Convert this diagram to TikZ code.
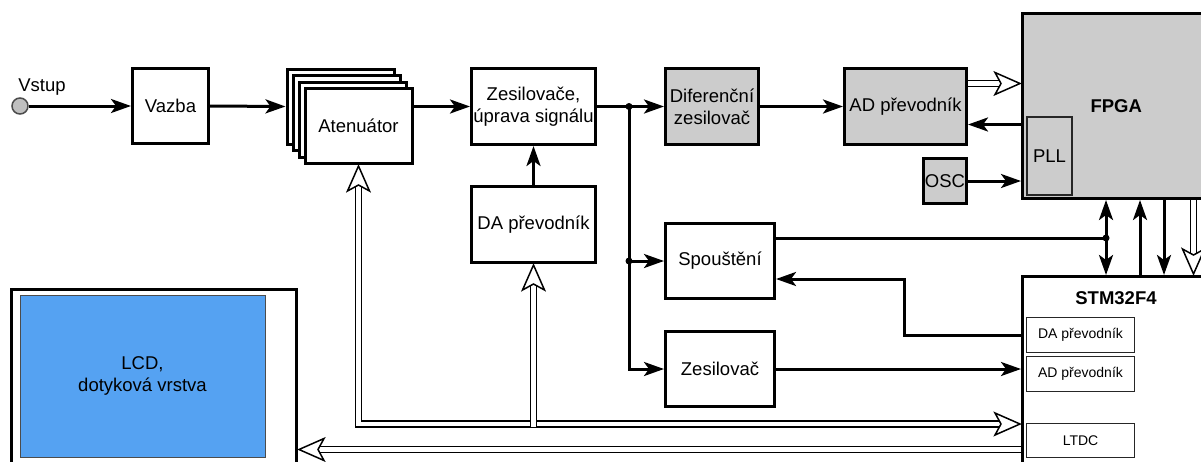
\documentclass[tikz,border=0pt]{standalone}
\usepackage{fontspec}
\setmainfont{Liberation Sans}
\usetikzlibrary{arrows.meta,calc}
\definecolor{boxgray}{RGB}{204,204,204}
\definecolor{lcdblue}{RGB}{85,162,242}
\tikzset{
  box/.style={draw, line width=3pt, inner sep=0pt, align=center},
  subbox/.style={draw=black!85, line width=1.5pt, inner sep=0pt, align=center},
  arr/.style={line width=3pt, line join=miter, -{Stealth[length=20pt, width=14pt, inset=5pt]}},
  arrtwo/.style={line width=3pt, {Stealth[length=20pt, width=14pt, inset=5pt]}-{Stealth[length=20pt, width=14pt, inset=5pt]}},
  dbl/.style={double=white, double distance=4.5pt, line width=1.5pt, line cap=butt, line join=miter},
  ohead/.pic={\draw[line width=1.5pt, fill=white, line join=miter] (-1,0) -- (-26,11) -- (-20,0) -- (-26,-11) -- cycle;}
}
\begin{document}
\begin{tikzpicture}[x=1pt,y=-1pt, font=\fontsize{18.5}{22}\selectfont]
\useasboundingbox[fill=white] (0,0) rectangle (1201,461);

% input
\node[circle, draw=black!70, fill=black!25, line width=1.5pt, minimum size=16pt, inner sep=0pt] (vin) at (20,106) {};
\node (vst) at (42,87) {Vstup};

\node[box, minimum width=76pt, minimum height=75pt] (vaz) at (170.5,106) {Vazba};
\node[box, fill=white, minimum width=107pt, minimum height=75pt] (atnc) at (340.5,106.5) {};
\node[box, fill=white, minimum width=107pt, minimum height=75pt] (atnb) at (346.5,113) {};
\node[box, fill=white, minimum width=107pt, minimum height=75pt] (atna) at (352.5,119.5) {};
\node[box, fill=white, minimum width=107pt, minimum height=75pt] (atn) at (358.5,126) {Atenuátor};
\node[box, minimum width=124pt, minimum height=76pt] (zes) at (533.5,106.5) {Zesilovače,\\úprava signálu};
\node[box, fill=boxgray, minimum width=93pt, minimum height=76pt] (dif) at (712,106.5) {Diferenční\\zesilovač};
\node[box, fill=boxgray, minimum width=122pt, minimum height=76pt] (ad) at (905.5,106.5) {AD převodník};
\node[box, fill=boxgray, minimum width=187.5pt, minimum height=185pt] (fpga) at (1116.25,106) {\bfseries FPGA};
\node[subbox, fill=boxgray, minimum width=45pt, minimum height=78pt] (pll) at (1049.5,156) {PLL};
\node[box, fill=boxgray, minimum width=43pt, minimum height=45pt] (osc) at (945,181) {OSC};
\node[box, minimum width=124pt, minimum height=76pt] (da) at (533.5,224.5) {DA převodník};
\node[box, minimum width=109pt, minimum height=75pt] (spo) at (720,261) {Spouštění};
\node[box, minimum width=109pt, minimum height=75pt] (zes2) at (720,369) {Zesilovač};

% STM32F4
\node[box, minimum width=187.5pt, minimum height=200pt] (stm) at (1116.25,376.5) {};
\node (stmt) at (1116,298) {\bfseries STM32F4};
\node[subbox, minimum width=108pt, minimum height=35pt, font=\fontsize{14}{17}\selectfont] (stmda) at (1080.5,335) {DA převodník};
\node[subbox, minimum width=108pt, minimum height=35pt, font=\fontsize{14}{17}\selectfont] (stmad) at (1080.5,374) {AD převodník};
\node[subbox, minimum width=108pt, minimum height=34pt, font=\fontsize{14}{17}\selectfont] (ltdc) at (1080.5,440.5) {LTDC};

% LCD
\node[box, minimum width=285pt, minimum height=185pt] (lcd) at (154,382) {};
\node[draw=black!70, line width=0.8pt, fill=lcdblue, minimum width=245pt, minimum height=162pt, align=center] (lcdin) at (142.5,376) {LCD,\\dotyková vrstva};

% coordinates
\coordinate (j1) at (629,106.5);
\coordinate (j2) at (629,261);
\coordinate (adU) at ([yshift=23pt]ad.east);
\coordinate (adD) at ([yshift=-18pt]ad.east);
\coordinate (spoU) at ([yshift=23pt]spo.east);
\coordinate (j3) at (1106,238);
\coordinate (c2) at (1140,238);
\coordinate (c3) at (1164,238);
\coordinate (c4) at (1193.5,238);
\coordinate (k1) at (904,279);
\coordinate (L) at (358.5,424);
\coordinate (D) at (533.5,426.5);
\coordinate (M) at (0,449.5);

% solid connectors
\draw[arr] (vin.east) -- (vaz.west);
\draw[arr] (vaz.east) -- (atnc.west);
\draw[arr] (zes.west -| atn.east) -- (zes.west);
\draw[arr] (zes.east) -- (dif.west);
\draw[arr] (dif.east) -- (ad.west);
\draw[arr] (adD -| fpga.west) -- (adD);
\draw[arr] (osc.east) -- (osc.east -| fpga.west);
\draw[arr] (da.north) -- (zes.south);
\draw[arr] (j1) |- (zes2.west);
\draw[arr] (j2) -- (spo.west);
\draw[line width=3pt] (spoU) -- (j3);
\draw[arrtwo] (j3 |- fpga.south) -- (j3 |- stm.north);
\draw[arr] (c2 |- stm.north) -- (c2 |- fpga.south);
\draw[arr] (c3 |- fpga.south) -- (c3 |- stm.north);
\draw[arr] (stm.west |- stmda.west) -| (k1) -- (k1 -| spo.east);
\draw[arr] (zes2.east) -- (zes2.east -| stm.west);
\fill (j1) circle (3.5);
\fill (j2) circle (3.5);
\fill (j3) circle (3.5);

% double (bus) connectors
\draw[dbl, shorten >=20pt] (adU) -- (adU -| fpga.west);
\pic at (adU -| fpga.west) {ohead};
\draw[dbl, shorten >=20pt] (c4 |- fpga.south) -- (c4 |- stm.north);
\pic[rotate=-90] at (c4 |- stm.north) {ohead};
\draw[dbl, shorten <=20pt, shorten >=20pt] (atn.south) -- (L) -- (L -| stm.west);
\pic[rotate=90] at (atn.south) {ohead};
\pic at (L -| stm.west) {ohead};
\draw[dbl, shorten >=20pt] (D) -- (da.south);
\pic[rotate=90] at (da.south) {ohead};
\draw[dbl, shorten >=20pt] (M -| stm.west) -- (M -| lcd.east);
\pic[rotate=180] at (M -| lcd.east) {ohead};
\end{tikzpicture}
\end{document}
